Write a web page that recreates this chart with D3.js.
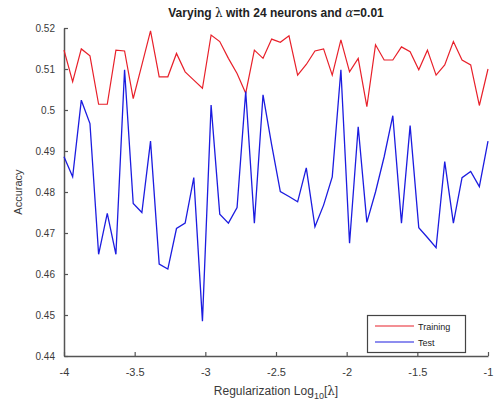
<!DOCTYPE html>
<html>
<head>
<meta charset="utf-8">
<script src="https://cdn.jsdelivr.net/npm/d3@7"></script>
<style>
  html, body { margin: 0; padding: 0; background: #fff; }
  svg { display: block; font-family: Arial, "Liberation Sans", sans-serif; }
</style>
</head>
<body>
<svg id="chart" width="494" height="401"></svg>
<script>
// ---- data ----
const xStart = -4, xEnd = -1, nPoints = 50;
const xTicks = [-4, -3.5, -3, -2.5, -2, -1.5, -1];
const xTickLabels = ["-4", "-3.5", "-3", "-2.5", "-2", "-1.5", "-1"];
const yTicks = [0.44, 0.45, 0.46, 0.47, 0.48, 0.49, 0.5, 0.51, 0.52];
const yTickLabels = ["0.44", "0.45", "0.46", "0.47", "0.48", "0.49", "0.5", "0.51", "0.52"];
const seriesNames = ["Training", "Test"];
const training = [
  0.5146, 0.5069, 0.5149, 0.5132, 0.5014, 0.5014, 0.5146, 0.5144, 0.5028, 0.5110,
  0.5193, 0.5081, 0.5081, 0.5138, 0.5093, 0.5073, 0.5053, 0.5183, 0.5167, 0.5126,
  0.5089, 0.5041, 0.5146, 0.5126, 0.5173, 0.5165, 0.5181, 0.5085, 0.5111, 0.5144,
  0.5149, 0.5085, 0.5171, 0.5093, 0.5126, 0.5008, 0.5159, 0.5122, 0.5122, 0.5154,
  0.5142, 0.5098, 0.5146, 0.5085, 0.5110, 0.5167, 0.5122, 0.5110, 0.5011, 0.5100
];
const test = [
  0.4886, 0.4837, 0.5024, 0.4967, 0.4648, 0.4748, 0.4648, 0.5098, 0.4772, 0.4750,
  0.4924, 0.4624, 0.4612, 0.4711, 0.4724, 0.4835, 0.4485, 0.5012, 0.4746, 0.4724,
  0.4762, 0.5045, 0.4724, 0.5037, 0.4915, 0.4801, 0.4789, 0.4776, 0.4859, 0.4715,
  0.4768, 0.4837, 0.5098, 0.4675, 0.4959, 0.4726, 0.4800, 0.4886, 0.4986, 0.4724,
  0.4962, 0.4713, 0.4689, 0.4664, 0.4874, 0.4724, 0.4835, 0.4850, 0.4813, 0.4924
];
const lambdas = d3.range(nPoints).map(i => xStart + i * (xEnd - xStart) / (nPoints - 1));

// ---- layout ----
const svg = d3.select("#chart");
const m = { left: 64, right: 6, top: 28, bottom: 45 };
const W = 494, H = 401;
const x = d3.scaleLinear().domain([xStart, xEnd]).range([m.left, W - m.right]);
const y = d3.scaleLinear().domain([0.44, 0.52]).range([H - m.bottom, m.top]);
const axisColor = "#555";
const textColor = "#3a3a3a";

// x axis (ticks inward)
const gx = svg.append("g").attr("transform", `translate(0,${H - m.bottom})`)
  .call(d3.axisBottom(x).tickValues(xTicks).tickSizeInner(-4).tickSizeOuter(0).tickPadding(10)
    .tickFormat((d, i) => xTickLabels[i]));
gx.select(".domain").attr("stroke", axisColor).attr("stroke-width", 1.5);
gx.selectAll(".tick line").attr("stroke", axisColor).attr("stroke-width", 1.2);
gx.selectAll(".tick text").attr("fill", textColor).attr("font-size", 11).attr("dy", "0.9em");

// y axis (ticks inward)
const gy = svg.append("g").attr("transform", `translate(${m.left},0)`)
  .call(d3.axisLeft(y).tickValues(yTicks).tickSizeInner(-4).tickSizeOuter(0).tickPadding(9)
    .tickFormat((d, i) => yTickLabels[i]));
gy.select(".domain").attr("stroke", axisColor).attr("stroke-width", 1.5);
gy.selectAll(".tick line").attr("stroke", axisColor).attr("stroke-width", 1.2);
gy.selectAll(".tick text").attr("fill", textColor).attr("font-size", 10);

// lines
const line = d3.line().x((d, i) => x(lambdas[i])).y(d => y(d));
svg.append("path").datum(training).attr("d", line)
  .attr("fill", "none").attr("stroke", "#e8202a").attr("stroke-width", 1.2);
svg.append("path").datum(test).attr("d", line)
  .attr("fill", "none").attr("stroke", "#1c1ce0").attr("stroke-width", 1.3);

// title
const title = svg.append("text").attr("x", 276).attr("y", 17).attr("text-anchor", "middle")
  .attr("font-size", 12).attr("font-weight", "bold").attr("fill", "#222");
title.append("tspan").text("Varying ");
title.append("tspan").attr("font-family", "'DejaVu Serif', serif").attr("font-weight", "normal").text("λ");
title.append("tspan").text(" with 24 neurons and ");
title.append("tspan").attr("font-family", "'DejaVu Serif', serif").attr("font-weight", "normal").attr("font-style", "italic").text("α");
title.append("tspan").text("=0.01");

// axis labels
const xl = svg.append("text").attr("x", 276).attr("y", 395).attr("text-anchor", "middle")
  .attr("font-size", 12).attr("fill", textColor);
xl.append("tspan").text("Regularization Log");
xl.append("tspan").attr("font-size", 9).attr("dy", 4).text("10");
xl.append("tspan").attr("dy", -4).text("[");
xl.append("tspan").attr("font-family", "'DejaVu Serif', serif").text("λ");
xl.append("tspan").text("]");

svg.append("text").attr("transform", `translate(22,${(m.top + H - m.bottom) / 2}) rotate(-90)`)
  .attr("text-anchor", "middle").attr("font-size", 11).attr("fill", textColor).text("Accuracy");

// legend
const lg = svg.append("g");
lg.append("rect").attr("x", 367.5).attr("y", 315.5).attr("width", 98).attr("height", 37)
  .attr("fill", "#fff").attr("stroke", "#444").attr("stroke-width", 1.2);
const legendColors = ["#e8202a", "#1c1ce0"];
seriesNames.forEach((name, i) => {
  const ly = 326 + i * 16;
  lg.append("line").attr("x1", 375).attr("x2", 414).attr("y1", ly).attr("y2", ly)
    .attr("stroke", legendColors[i]).attr("stroke-width", 1.2);
  lg.append("text").attr("x", 418).attr("y", ly + 3.5).attr("font-size", 9)
    .attr("fill", "#222").text(name);
});
</script>
</body>
</html>
